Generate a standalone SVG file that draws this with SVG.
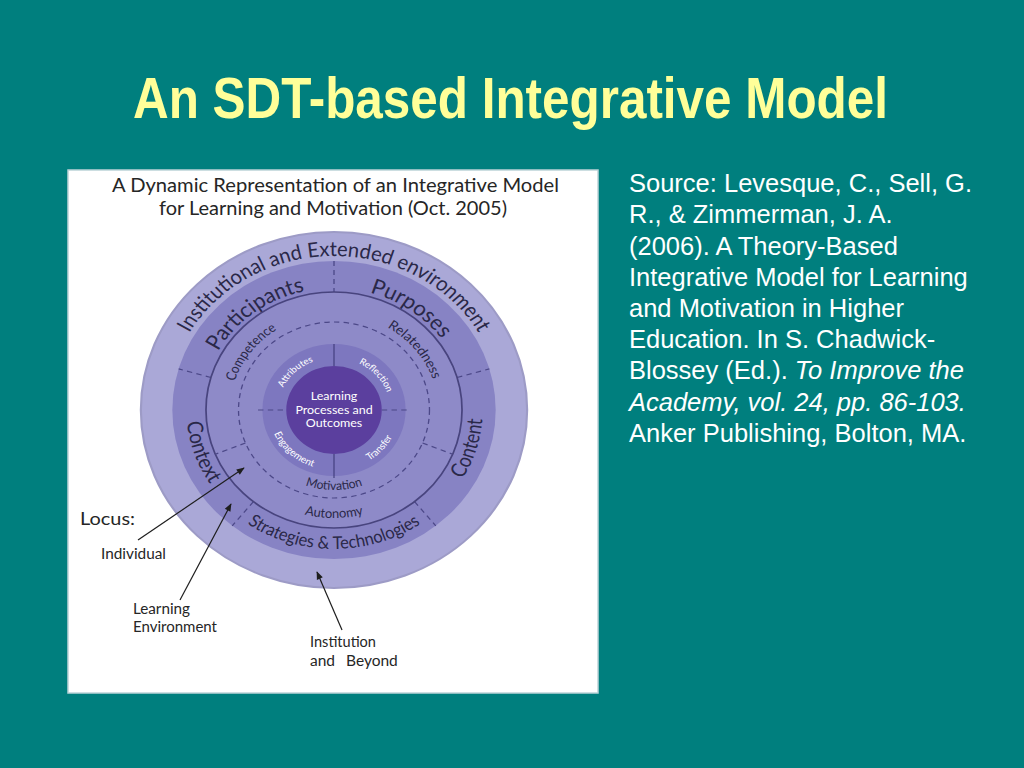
<svg xmlns="http://www.w3.org/2000/svg" width="1024" height="768" viewBox="0 0 1024 768">
<style>
.ttl{font-family:"Liberation Sans Narrow","Liberation Sans",Arial,sans-serif;font-weight:bold;fill:#ffff99}
.src{font-family:"Liberation Sans",Arial,sans-serif;font-size:25.5px;fill:#ffffff}
.dg{font-family:Lato,"Open Sans",sans-serif;fill:#2a2848}
.lbl{font-family:Lato,"Open Sans",sans-serif;fill:#262626}
.wt{font-family:Lato,"Open Sans",sans-serif;fill:#ffffff}
.dash{stroke:#4c4888;stroke-width:1.2;stroke-dasharray:5 4;fill:none}
.arrow{stroke:#1e1e1e;stroke-width:1.2;fill:none;marker-end:url(#ah)}
</style>
<defs>
<marker id="ah" viewBox="0 0 10 10" refX="9" refY="5" markerWidth="9" markerHeight="8" markerUnits="userSpaceOnUse" orient="auto"><path d="M0,1 L10,5 L0,9 z" fill="#1e1e1e"/></marker>
<path id="pOuter" d="M -148.75 -39.86 A 154 154 0 0 1 148.75 -39.86"/>
<path id="pPart" d="M -120.1 -21.2 A 122 122 0 0 1 12.75 -121.3"/>
<path id="pPurp" d="M -16.98 -120.8 A 122 122 0 0 1 119.3 -25.4"/>
<path id="pCtx" d="M -117.8 -68 A 136 136 0 0 0 -50.9 126.1"/>
<path id="pCnt" d="M 55.7 125.2 A 137 137 0 0 0 116.2 -72.6"/>
<path id="pStr" d="M -120.6 70 A 140 140 0 0 0 120.6 70"/>
<path id="pComp" d="M -94.5 16.7 A 96 96 0 0 1 -10 -95.5"/>
<path id="pRel" d="M 6.7 -95.8 A 96 96 0 0 1 95.1 13.4"/>
<path id="pMot" d="M -61.3 51.4 A 80 80 0 0 0 61.3 51.4"/>
<path id="pAut" d="M -82.7 69.4 A 108 108 0 0 0 82.7 69.4"/>
<path id="pAttr" d="M -51.2 9 A 52 52 0 0 1 12.6 -50.5"/>
<path id="pRefl" d="M -8.1 -51.4 A 52 52 0 0 1 50.2 13.5"/>
<path id="pEng" d="M -59.1 -10.4 A 60 60 0 0 0 14.5 58.2"/>
<path id="pTrans" d="M -9.4 59.3 A 60 60 0 0 0 58 -15.5"/>
</defs>
<rect width="1024" height="768" fill="#007f7e"/>
<g id="title"><text class="ttl" x="133" y="118" font-size="57" textLength="755" lengthAdjust="spacingAndGlyphs">An SDT-based Integrative Model</text></g>
<g id="panel"><rect x="68" y="170" width="530" height="523" fill="#ffffff" stroke="#bcd3d8" stroke-width="1.5"/>
<text class="lbl" x="112" y="192" font-size="18.5" textLength="447" lengthAdjust="spacingAndGlyphs">A Dynamic Representation of an Integrative Model</text>
<text class="lbl" x="159" y="215" font-size="18.5" textLength="348" lengthAdjust="spacingAndGlyphs">for Learning and Motivation (Oct. 2005)</text>
</g>
<g id="model" transform="translate(334,410) scale(1.085,1)">
<g id="ring-institution"><circle r="178" fill="#aaa8d7" stroke="#9d9bc6" stroke-width="2"/>
<text class="dg" font-size="20.5"><textPath href="#pOuter" startOffset="50%" text-anchor="middle" textLength="322" lengthAdjust="spacingAndGlyphs">Institutional and Extended environment</textPath></text></g>
<g id="ring-environment"><circle r="149" fill="#8783c4"/>
<text class="dg" font-size="21"><textPath href="#pPart" startOffset="50%" text-anchor="middle" textLength="103" lengthAdjust="spacingAndGlyphs">Participants</textPath></text>
<text class="dg" font-size="21"><textPath href="#pPurp" startOffset="50%" text-anchor="middle" textLength="82" lengthAdjust="spacingAndGlyphs">Purposes</textPath></text>
<text class="dg" font-size="20"><textPath href="#pCtx" startOffset="50%" text-anchor="middle" textLength="66" lengthAdjust="spacingAndGlyphs">Context</textPath></text>
<text class="dg" font-size="20"><textPath href="#pCnt" startOffset="50%" text-anchor="middle" textLength="63" lengthAdjust="spacingAndGlyphs">Content</textPath></text>
<text class="dg" font-size="17.5"><textPath href="#pStr" startOffset="50%" text-anchor="middle" textLength="170" lengthAdjust="spacingAndGlyphs">Strategies &amp; Technologies</textPath></text>
<path class="dash" d="M0 -149 V -88 M-113.4 -32.5 L-143.2 -41.1 M113.4 -32.5 L143.2 -41.1 M-74.3 91.7 L-93.8 115.8 M74.3 91.7 L93.8 115.8"/></g>
<g id="ring-individual"><circle r="118" fill="#8e8ac8" stroke="#48447e" stroke-width="1.6"/>
<circle class="dash" r="88" stroke="#5a5698" stroke-dasharray="7 6"/>
<path class="dash" d="M-81.6 33 L-109.4 44.2 M81.6 33 L109.4 44.2"/>
<text class="dg" font-size="13"><textPath href="#pComp" startOffset="50%" text-anchor="middle" textLength="66" lengthAdjust="spacingAndGlyphs">Competence</textPath></text>
<text class="dg" font-size="13"><textPath href="#pRel" startOffset="50%" text-anchor="middle" textLength="68" lengthAdjust="spacingAndGlyphs">Relatedness</textPath></text>
<text class="dg" font-size="12.5"><textPath href="#pMot" startOffset="50%" text-anchor="middle" textLength="54" lengthAdjust="spacingAndGlyphs">Motivation</textPath></text>
<text class="dg" font-size="13"><textPath href="#pAut" startOffset="50%" text-anchor="middle" textLength="55" lengthAdjust="spacingAndGlyphs">Autonomy</textPath></text></g>
<g id="ring-core"><circle r="66" fill="#7d77bf"/>
<path d="M0 -66 V -44 M0 44 V 68" stroke="#3e3a78" stroke-width="1" fill="none"/>
<path class="dash" d="M-70 0 H-44 M44 0 H70" stroke="#3e3a78"/>
<text class="wt" font-size="9"><textPath href="#pAttr" startOffset="50%" text-anchor="middle" textLength="39" lengthAdjust="spacingAndGlyphs">Attributes</textPath></text>
<text class="wt" font-size="9"><textPath href="#pRefl" startOffset="50%" text-anchor="middle" textLength="40" lengthAdjust="spacingAndGlyphs">Reflection</textPath></text>
<text class="wt" font-size="9.5"><textPath href="#pEng" startOffset="50%" text-anchor="middle" textLength="50" lengthAdjust="spacingAndGlyphs">Engagement</textPath></text>
<text class="wt" font-size="9.5"><textPath href="#pTrans" startOffset="50%" text-anchor="middle" textLength="32" lengthAdjust="spacingAndGlyphs">Transfer</textPath></text></g>
<g id="center"><circle r="44" fill="#5b3f9e"/>
<text class="wt" font-size="11.5" text-anchor="middle"><tspan x="0" y="-10">Learning</tspan><tspan x="0" y="3.5">Processes and</tspan><tspan x="0" y="17">Outcomes</tspan></text></g>
</g>
<g id="locus-labels">
<text class="lbl" x="80" y="525" font-size="18" textLength="55" lengthAdjust="spacingAndGlyphs">Locus:</text>
<text class="lbl" x="101" y="559" font-size="15.5" textLength="65" lengthAdjust="spacingAndGlyphs">Individual</text>
<text class="lbl" x="133" y="614" font-size="15.5" textLength="57" lengthAdjust="spacingAndGlyphs">Learning</text>
<text class="lbl" x="133" y="632" font-size="15.5" textLength="84" lengthAdjust="spacingAndGlyphs">Environment</text>
<text class="lbl" x="310" y="647" font-size="15.5" textLength="66" lengthAdjust="spacingAndGlyphs">Institution</text>
<text class="lbl" font-size="15.5"><tspan x="310" y="666">and</tspan><tspan x="346" y="666">Beyond</tspan></text>
</g>
<g id="connectors">
<path class="arrow" d="M138 540 L244 468"/>
<path class="arrow" d="M180 600 L231 504"/>
<path class="arrow" d="M342 630 L317 572"/>
</g>
<g id="source" class="src">
<text x="629" y="192">Source: Levesque, C., Sell, G.</text>
<text x="629" y="223">R., &amp; Zimmerman, J. A.</text>
<text x="629" y="254.5">(2006). A Theory-Based</text>
<text x="629" y="285.5">Integrative Model for Learning</text>
<text x="629" y="317">and Motivation in Higher</text>
<text x="629" y="348">Education. In S. Chadwick-</text>
<text x="629" y="379">Blossey (Ed.). <tspan font-style="italic">To Improve the</tspan></text>
<text x="629" y="410.5" font-style="italic">Academy, vol. 24, pp. 86-103.</text>
<text x="629" y="441.5">Anker Publishing, Bolton, MA.</text>
</g>
</svg>
